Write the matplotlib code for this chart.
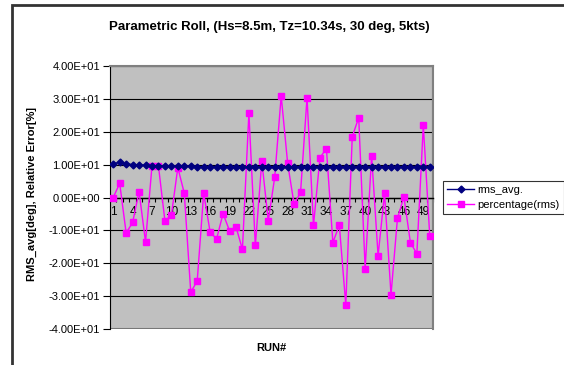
import matplotlib.pyplot as plt
from matplotlib.patches import Rectangle
from matplotlib.ticker import FuncFormatter, MultipleLocator
import numpy as np

# ── data ──────────────────────────────────────────────────────────────────────
runs = np.arange(1, 51)

rms_avg = [10.2, 10.8, 10.3, 10.0, 9.9, 9.8, 9.6, 9.7, 9.7, 9.6,
           9.7, 9.6, 9.5, 9.4, 9.4, 9.4, 9.4, 9.4, 9.3, 9.2,
           9.3, 9.3, 9.3, 9.3, 9.3, 9.4, 9.4, 9.4, 9.4, 9.4,
           9.4, 9.4, 9.4, 9.4, 9.4, 9.4, 9.4, 9.4, 9.4, 9.4,
           9.4, 9.4, 9.4, 9.4, 9.4, 9.4, 9.4, 9.4, 9.4, 9.4]

pct_rms = [0.0, 4.3, -10.8, -7.6, 1.8, -13.5, 9.6, 9.6, -7.1, -5.4,
           9.1, 1.3, -28.8, -25.4, 1.3, -10.5, -12.6, -4.9, -10.1, -8.9,
           -15.8, 25.7, -14.6, 11.1, -7.1, 6.2, 30.9, 10.4, -2.1, 1.6,
           30.4, -8.5, 12.1, 14.9, -13.7, -8.4, -32.7, 18.5, 24.3, -21.6,
           12.6, -17.7, 1.3, -29.6, -6.3, 0.2, -13.7, -17.1, 22.0, -11.8]

label_runs = list(range(1, 51, 3))

W, H = 564, 365
plt.rcParams['font.family'] = ['Liberation Sans', 'DejaVu Sans']

fig = plt.figure(figsize=(W / 100, H / 100), dpi=100)

# chart area frame
fig.patches.append(Rectangle((12 / W, -0.1), 1.0, (H - 5) / H + 0.1,
                             transform=fig.transFigure, fill=False,
                             edgecolor='#333333', linewidth=2))

ax = fig.add_axes([110 / W, 1 - 329 / H, 323 / W, 263 / H])
ax.set_facecolor('#C0C0C0')

ax.plot(runs, rms_avg, color='#000080', linewidth=1, marker='D',
        markersize=3.5, label='rms_avg.', zorder=4)
ax.plot(runs, pct_rms, color='#FF00FF', linewidth=1, marker='s',
        markersize=4.5, label='percentage(rms)', zorder=3)

ax.set_xlim(0.5, 50.5)
ax.set_ylim(-40, 40)
ax.yaxis.set_major_locator(MultipleLocator(10))
ax.yaxis.set_major_formatter(FuncFormatter(lambda v, p: f"{v:.2E}"))
ax.grid(axis='y', color='black', linewidth=0.8)
ax.set_axisbelow(True)

# category axis crossing at zero
ax.spines['bottom'].set_position(('data', 0))
ax.spines['bottom'].set_color('black')
ax.spines['bottom'].set_linewidth(1)
ax.spines['left'].set_color('black')
for s in ('top', 'right'):
    ax.spines[s].set_color('#808080')
    ax.spines[s].set_linewidth(1.5)
ax.add_patch(Rectangle((0, 0), 1, 1, transform=ax.transAxes, fill=False,
                       edgecolor='#808080', linewidth=1.5, zorder=0.5))

ax.set_xticks(np.arange(0.5, 51, 1))
ax.set_xticklabels([])
ax.set_xticks(label_runs, minor=True)
ax.set_xticklabels([str(r) for r in label_runs], minor=True)
ax.tick_params(axis='x', which='major', direction='out', length=3,
               width=0.8, color='black')
ax.tick_params(axis='x', which='minor', length=0, pad=6, labelsize=8.5)
ax.tick_params(axis='y', direction='out', length=5, width=0.8,
               labelsize=8, pad=2)

fig.text(269 / W, 1 - 27 / H,
         'Parametric Roll, (Hs=8.5m, Tz=10.34s, 30 deg, 5kts)',
         ha='center', va='center', fontsize=9.5, fontweight='bold')
fig.text(32 / W, 1 - 194 / H, 'RMS_avg[deg], Relative Error[%]',
         rotation=90, ha='center', va='center', fontsize=8,
         fontweight='bold')
fig.text(271 / W, 1 - 348 / H, 'RUN#', ha='center', va='center',
         fontsize=8, fontweight='bold')

leg = fig.legend(loc='center left', bbox_to_anchor=(443 / W, 1 - 197.5 / H),
                 fontsize=8, frameon=True, fancybox=False,
                 handlelength=2.4, borderpad=0.4, labelspacing=0.45,
                 handletextpad=0.3, borderaxespad=0)
leg.get_frame().set_edgecolor('black')
leg.get_frame().set_linewidth(0.8)

fig.savefig('out.png', dpi=100)
